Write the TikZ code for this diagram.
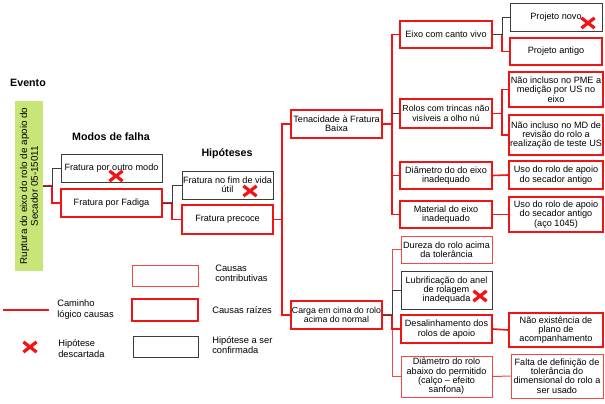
\documentclass[tikz,border=0pt]{standalone}
\usepackage{fontspec}
\setmainfont{Liberation Sans}
\usetikzlibrary{shapes.misc}
\definecolor{gr}{RGB}{200,230,120}
\definecolor{rd}{RGB}{240,20,20}
\definecolor{rdl}{RGB}{245,70,70}
\definecolor{bk}{RGB}{60,60,60}
\begin{document}
\begin{tikzpicture}[x=0.75pt,y=-0.75pt,
 box/.style 2 args={minimum width=#1*0.75pt, minimum height=#2*0.75pt, inner sep=0pt, align=center, font=\fontsize{6.85}{7}\selectfont},
 tight/.style={font=\fontsize{6.6}{7}\selectfont},
 thk/.style={draw=rd, line width=1.5pt},
 thn/.style={draw=rdl, line width=0.75pt},
 blk/.style={draw=bk, line width=0.65pt},
 cthk/.style={draw=rd, line width=1.2pt},
 cthn/.style={draw=rdl, line width=0.75pt},
 cblk/.style={draw=bk, line width=0.65pt},
 head/.style={font=\fontsize{8}{9}\selectfont\bfseries},
 lgt/.style={font=\fontsize{7}{7.8}\selectfont, align=left, anchor=west, inner sep=0pt},
 xmark/.style={cross out, draw=rd, line width=2.4pt, minimum width=10*0.75pt, minimum height=7*0.75pt, inner sep=0pt}]
\useasboundingbox (0,0) rectangle (605,403);
% headings
\node[head] (hev) at (28,83) {Evento};
\node[head] (hmf) at (111,137) {Modos de falha};
\node[head] (hhp) at (227,154) {Hipóteses};
% event
\node[box={170}{28}, fill=gr, rotate=90, font=\fontsize{7.4}{8.2}\selectfont] (ev) at (29,186) {Ruptura do eixo do rolo de apoio do\\Secador 05-15011};
% level 1
\node[box={101}{28}, blk] (om) at (111.5,168) {Fratura por outro modo};
\node[box={101}{28}, thk] (fd) at (111.5,203) {Fratura por Fadiga};
% level 2
\node[box={91}{28}, blk] (fv) at (227.5,185) {Fratura no fim de vida\\útil};
\node[box={91}{29}, thk] (fp) at (227.5,219.5) {Fratura precoce};
% level 3
\node[box={91}{28}, thk] (tn) at (336.5,124) {Tenacidade à Fratura\\Baixa};
\node[box={91}{28}, thk, tight] (cg) at (336.5,315) {Carga em cima do rolo\\acima do normal};
% level 4
\node[box={92}{27}, thk] (ec) at (446,34.5) {Eixo com canto vivo};
\node[box={92}{29}, thk, tight] (rt) at (446,113.5) {Rolos com trincas não\\visíveis a olho nú};
\node[box={92}{27}, thk] (de) at (446,175.5) {Diâmetro do do eixo\\inadequado};
\node[box={92}{27}, thk] (me) at (446,214.5) {Material do eixo\\inadequado};
\node[box={91}{27}, thn] (du) at (446.5,249.5) {Dureza do rolo acima\\da tolerância};
\node[box={91}{38}, blk] (lu) at (446.5,290) {Lubrificação do anel\\de rolagem\\inadequada};
\node[box={91}{28}, thk] (ds) at (446.5,329) {Desalinhamento dos\\rolos de apoio};
\node[box={91}{41}, thn] (dr) at (446.5,376.5) {Diâmetro do rolo\\abaixo do permitido\\(calço -- efeito\\sanfona)};
% level 5
\node[box={92}{28}, blk] (pn) at (556,17) {Projeto novo};
\node[box={92}{27}, thk] (pa) at (556,51.5) {Projeto antigo};
\node[box={94}{35}, thk] (n1) at (556,89.5) {Não incluso no PME a\\medição por US no\\eixo};
\node[box={94}{40}, thk] (n2) at (556,135) {Não incluso no MD de\\revisão do rolo a\\realização de teste US};
\node[box={94}{28}, thk] (u1) at (556,175) {Uso do rolo de apoio\\do secador antigo};
\node[box={94}{35}, thk] (u2) at (556,214.5) {Uso do rolo de apoio\\do secador antigo\\(aço 1045)};
\node[box={94}{34}, thk] (ne) at (556,330) {Não existência de\\plano de\\acompanhamento};
\node[box={92}{44}, thn] (fa) at (557,376) {Falta de definição de\\tolerância do\\dimensional do rolo a\\ser usado};
% junction columns
\coordinate (j1) at (52,0);
\coordinate (j2) at (172,0);
\coordinate (j3) at (282,0);
\coordinate (j4) at (392,0);
\coordinate (j5) at (502,0);
% connectors
\draw[cthk] (ev.south) -- (ev.south -| j1) |- (fd.west);
\draw[cblk] (ev.south) -- (ev.south -| j1) |- (om.west);
\draw[cthk] (fd.east) -- (fd.east -| j2) |- (fp.west);
\draw[cblk] (fd.east) -- (fd.east -| j2) |- (fv.west);
\draw[cthk] (fp.east) -- (fp.east -| j3) |- (tn.west);
\draw[cthk] (fp.east) -- (fp.east -| j3) |- (cg.west);
\draw[cthk] (tn.east) -- (tn.east -| j4) |- (ec.west);
\draw[cthk] (tn.east) -- (tn.east -| j4) |- (de.west);
\draw[cthk] (tn.east) -- (tn.east -| j4) |- (me.west);
\draw[cblk] (rt.west -| j4) -- (rt.west);
\draw[cthn] (cg.east) -- (cg.east -| j4) |- (du.west);
\draw[cthn] (cg.east) -- (cg.east -| j4) |- (dr.west);
\draw[cthk] (cg.east) -- (cg.east -| j4) |- (ds.west);
\draw[cblk] (cg.east) -- (cg.east -| j4) |- (lu.west);
\draw[cthk] (ec.east) -- (ec.east -| j5) |- (pa.west);
\draw[cblk] (ec.east) -- (ec.east -| j5) |- (pn.west);
\draw[cthk] (rt.east) -- (rt.east -| j5) |- (n1.west);
\draw[cthk] (rt.east) -- (rt.east -| j5) |- (n2.west);
\draw[cthk] (de.east) -- (u1.west);
\draw[cthk] (me.east) -- (u2.west);
\draw[cthk] (ds.east) -- (ne.west);
\draw[cthn] (dr.east) -- (fa.west);
% discarded marks
\node[xmark] (x1) at (116,176) {};
\node[xmark] (x2) at (250,191) {};
\node[xmark] (x3) at (588,23) {};
\node[xmark] (x4) at (480,296) {};
% legend
\node[box={66}{21}, thn] (lg1) at (165,275.5) {};
\node[box={66}{22}, thk] (lg2) at (165,310) {};
\node[box={65}{21}, blk] (lg3) at (165.5,346.5) {};
\node[lgt] (lt1) at (215,273) {Causas\\contributivas};
\node[lgt] (lt2) at (212,310) {Causas raízes};
\node[lgt] (lt3) at (212,345) {Hipótese a ser\\confirmada};
\coordinate (la) at (3,310);
\coordinate (lb) at (49,310);
\draw[draw=rd, line width=1pt] (la) -- (lb);
\node[lgt] (lt4) at (57,309.5) {Caminho\\lógico causas};
\node[xmark] (x5) at (30,347) {};
\node[lgt] (lt5) at (58,348.5) {Hipótese\\descartada};
\end{tikzpicture}
\end{document}
